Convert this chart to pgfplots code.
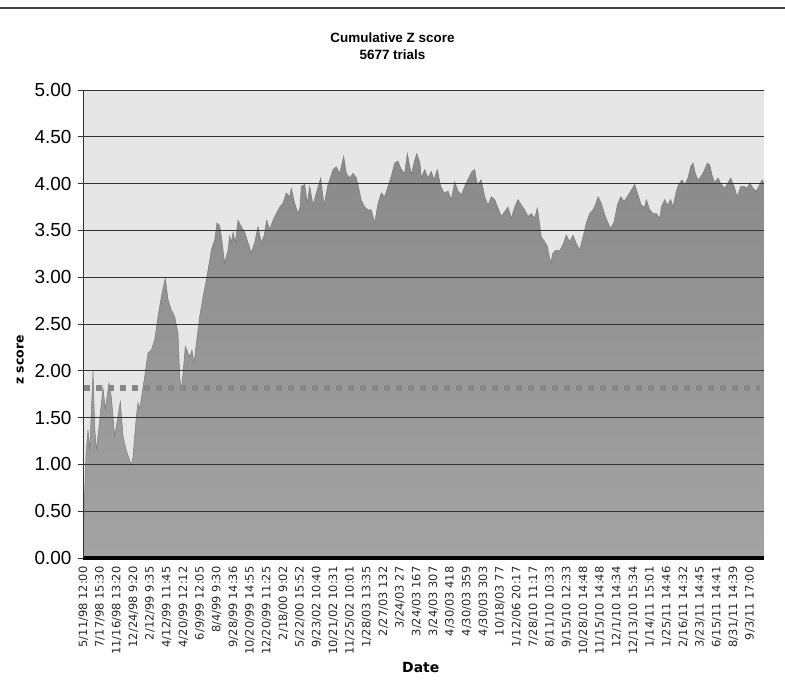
\documentclass[border=0pt]{standalone}
\usepackage{fontspec}
\setmainfont{Liberation Sans}
\newfontfamily\dejavu{DejaVu Sans}
\usepackage{pgfplots}
\usepackage{pgfplotstable}
\pgfplotsset{compat=1.18}
\definecolor{bgc}{HTML}{E6E6E6}
\pgfplotstableread{
x y
83 0.00
84 0.48
86 1.10
88 1.37
89.7 1.15
93 1.99
94.7 1.40
96.3 1.15
98.7 1.37
103 1.82
105.3 1.59
109 1.87
111.3 1.72
114.7 1.30
120.3 1.67
123 1.30
126.3 1.15
131.3 0.99
133 1.08
136.3 1.51
138 1.66
139.7 1.59
141.3 1.70
144.7 1.94
148 2.19
151.3 2.22
154.7 2.33
158 2.58
161.3 2.79
165.3 2.99
168 2.76
171.3 2.65
174.7 2.58
178 2.40
179.7 1.94
181.3 1.79
183 1.97
185.3 2.26
188 2.19
189.7 2.15
192 2.22
194 2.08
196.3 2.29
199.7 2.58
203 2.79
206.3 2.97
209.7 3.18
211.3 3.29
214.7 3.40
217 3.58
219.7 3.55
221.3 3.44
224.7 3.15
228 3.29
229.7 3.44
231.3 3.37
233 3.48
235.3 3.37
238 3.61
241.3 3.54
244.7 3.48
248 3.37
251.3 3.26
254.7 3.37
258 3.54
261.3 3.37
264 3.44
266.7 3.61
269.7 3.51
273 3.61
276.3 3.68
279.7 3.75
283 3.79
286.3 3.90
289.7 3.86
291.3 3.95
294.7 3.79
298 3.68
300 3.75
301.3 3.97
304.7 3.99
307.3 3.79
309.7 3.97
313 3.77
316.3 3.90
320.7 4.06
324 3.77
328 3.99
333 4.15
336.3 4.18
339.7 4.11
343.7 4.29
346.3 4.11
349.7 4.06
353 4.11
356.3 4.06
358 3.99
361.3 3.82
364.7 3.75
368 3.72
371.3 3.72
374.7 3.58
378 3.79
381.3 3.90
384.7 3.86
388 3.97
391.3 4.08
394.7 4.22
398 4.24
401.3 4.15
404.7 4.11
407.3 4.32
411.3 4.10
414.7 4.25
416.7 4.32
420 4.22
421.3 4.06
424.7 4.15
428 4.06
431.3 4.13
434 4.04
437.3 4.15
440.7 3.97
444 3.90
448 3.92
451.3 3.83
454.7 4.02
458 3.92
461.3 3.88
464.7 3.97
468.7 4.06
472 4.13
474.7 4.15
477.3 3.99
481.3 4.04
484.7 3.86
488 3.77
491.3 3.86
494.7 3.83
498 3.74
501.3 3.65
504.7 3.70
508 3.75
511.3 3.63
514.7 3.75
518 3.83
521.3 3.77
524.7 3.72
528 3.65
531.3 3.68
534.7 3.63
537.3 3.74
540 3.54
541.3 3.43
544.7 3.38
547.3 3.33
550.7 3.15
553 3.26
556.3 3.29
559.7 3.28
563 3.35
566.3 3.45
569.7 3.38
573 3.45
576.3 3.36
579.7 3.29
583 3.43
586.3 3.58
589.7 3.68
593 3.72
595.3 3.77
598 3.86
601.3 3.79
604.7 3.67
608 3.58
610.7 3.52
614 3.59
617.3 3.77
620.7 3.86
624 3.81
627.3 3.86
630.7 3.92
634.7 3.99
638 3.88
641.3 3.77
644.7 3.75
646.3 3.83
649.7 3.72
653 3.68
656.3 3.68
660 3.63
661.3 3.75
664.7 3.83
667.3 3.77
670.7 3.83
673 3.75
676.3 3.92
678.7 3.99
682 4.04
684.7 3.99
688 4.06
690.7 4.18
693 4.22
695.3 4.11
698 4.04
701.3 4.08
704.7 4.15
707.3 4.22
709.7 4.20
712.3 4.08
714.7 4.01
718 4.06
721.3 3.99
724.7 3.95
728 4.01
730.7 4.06
734 3.97
737.3 3.86
740.7 3.97
744 3.97
747.3 3.95
749.7 4.01
753 3.95
756.3 3.92
759.7 3.99
762 4.04
764 4.01
}\zdata
\begin{document}
\begin{tikzpicture}
\useasboundingbox (0,0) rectangle (785bp,688bp);
\draw[black!75, line width=1.5bp] (0,680bp) -- (785bp,680bp);
\begin{axis}[
  at={(83bp,130bp)}, anchor=south west,
  scale only axis, width=681bp, height=468bp,
  xmin=83, xmax=764, ymin=0, ymax=5,
  axis on top,
  axis background/.style={fill=bgc},
  axis x line*=bottom, axis y line*=left,
  x axis line style={-, line width=4.5bp, black},
  y axis line style={-, line width=0.8bp, black!80},
  ytick={0,0.5,...,5},
  ymajorgrids,
  grid style={black!80, line width=0.8bp},
  tick align=outside, major tick length=5bp,
  ytick style={black!80, line width=0.8bp},
  xtick style={draw=none},
  yticklabel style={font=\fontsize{19}{19}\selectfont, xshift=-3bp,
    /pgf/number format/.cd, fixed, fixed zerofill, precision=2, assume math mode=true},
  xtick={83.33,100,116.67,133.33,150,166.67,183.33,200,216.67,233.33,250,266.67,283.33,300,316.67,333.33,350,366.67,383.33,400,416.67,433.33,450,466.67,483.33,500,516.67,533.33,550,566.67,583.33,600,616.67,633.33,650,666.67,683.33,700,716.67,733.33,750},
  xticklabels={5/11/98 12:00,7/17/98 15:30,11/16/98 13:20,12/24/98 9:20,2/12/99 9:35,4/12/99 11:45,4/20/99 12:12,6/9/99 12:05,8/4/99 9:30,9/28/99 14:36,10/20/99 14:55,12/20/99 11:25,2/18/00 9:02,5/22/00 15:52,9/23/02 10:40,10/21/02 10:31,11/25/02 10:01,1/28/03 13:35,2/27/03 132,3/24/03 27,3/24/03 167,3/24/03 307,4/30/03 418,4/30/03 359,4/30/03 303,10/18/03 77,1/12/06 20:17,7/28/10 11:17,8/11/10 10:33,9/15/10 12:33,10/28/10 14:48,11/15/10 14:48,12/1/10 14:34,12/13/10 15:34,1/14/11 15:01,1/25/11 14:46,2/16/11 14:32,3/23/11 14:45,6/15/11 14:41,8/31/11 14:39,9/3/11 17:00},
  xticklabel style={rotate=90, anchor=east, font=\dejavu\fontsize{11.5}{12}\selectfont, text=black!85},
  title={Cumulative Z score\\5677 trials},
  title style={font=\bfseries\fontsize{13.5}{17}\selectfont, align=center, at={(0.5,1)}, anchor=south, xshift=-31bp, yshift=21bp},
  xlabel={Date},
  xlabel style={font=\dejavu\bfseries\fontsize{14}{14}\selectfont, at={(axis description cs:0.496,-0.235)}, anchor=center},
  ylabel={z score},
  ylabel style={font=\dejavu\bfseries\fontsize{12.5}{12.5}\selectfont, at={(axis description cs:-0.092,0.423)}, anchor=center},
]
\addplot[draw=none, top color=black!46, bottom color=black!36] table {\zdata} \closedcycle;
\addplot[black!52, line width=0.5bp] table {\zdata};
\addplot[black!47, line width=6bp, dash pattern=on 6bp off 6bp] coordinates {(84,1.82) (760,1.82)};
\end{axis}
\end{tikzpicture}
\end{document}
